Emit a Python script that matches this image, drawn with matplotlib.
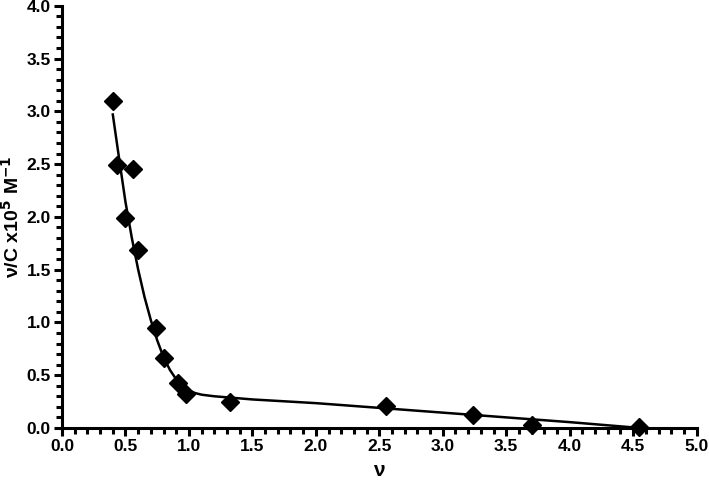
import matplotlib
matplotlib.use("Agg")
import matplotlib.pyplot as plt
from matplotlib.ticker import MultipleLocator

plt.rcParams["font.family"] = ["Liberation Sans", "DejaVu Sans"]
plt.rcParams["font.weight"] = "bold"

# measured points
nu = [0.40, 0.43, 0.56, 0.50, 0.60, 0.74, 0.80, 0.91, 0.98, 1.32, 2.55, 3.24, 3.70, 4.55]
nu_c = [3.10, 2.49, 2.45, 1.99, 1.69, 0.95, 0.66, 0.43, 0.32, 0.25, 0.21, 0.12, 0.03, 0.01]

# fitted curve
fit_x = [0.40, 0.45, 0.50, 0.55, 0.60, 0.65, 0.70, 0.75, 0.80, 0.85, 0.90, 0.95,
         1.00, 1.05, 1.10, 1.20, 1.35, 1.50, 2.00, 2.50, 3.00, 3.50, 4.00, 4.55]
fit_y = [2.97, 2.55, 2.14, 1.80, 1.50, 1.24, 1.02, 0.83, 0.67, 0.55, 0.46, 0.40,
         0.355, 0.33, 0.315, 0.30, 0.285, 0.27, 0.235, 0.19, 0.145, 0.10, 0.055, 0.0]

fig = plt.figure(figsize=(7.09, 4.83), dpi=100)
ax = fig.add_axes([0.0875, 0.114, 0.895, 0.874])

ax.plot(fit_x, fit_y, color="black", lw=1.8, zorder=2)
ax.plot(nu, nu_c, "D", color="black", ms=9, zorder=3, clip_on=False)

ax.set_xlim(0, 5)
ax.set_ylim(0, 4)
ax.xaxis.set_major_locator(MultipleLocator(0.5))
ax.xaxis.set_minor_locator(MultipleLocator(0.1))
ax.yaxis.set_major_locator(MultipleLocator(0.5))
ax.yaxis.set_minor_locator(MultipleLocator(0.1))
ax.xaxis.set_major_formatter(lambda v, p: f"{v:.1f}")
ax.yaxis.set_major_formatter(lambda v, p: f"{v:.1f}")

for s in ["top", "right"]:
    ax.spines[s].set_visible(False)
for s in ["left", "bottom"]:
    ax.spines[s].set_linewidth(2.2)

ax.tick_params(which="major", length=6, width=2.2, labelsize=12.5, direction="out", pad=2)
ax.tick_params(which="minor", length=4, width=2.2, direction="out")

ax.set_xlabel("ν", fontsize=15, fontweight="bold")
ax.set_ylabel("ν/C x10$^{\\mathbf{5}}$ M$^{\\mathbf{-1}}$", fontsize=14, fontweight="bold")
ax.yaxis.set_label_coords(-0.062, 0.5)
ax.xaxis.set_label_coords(0.5, -0.078)

plt.savefig("out.png", dpi=100)
plt.close()
